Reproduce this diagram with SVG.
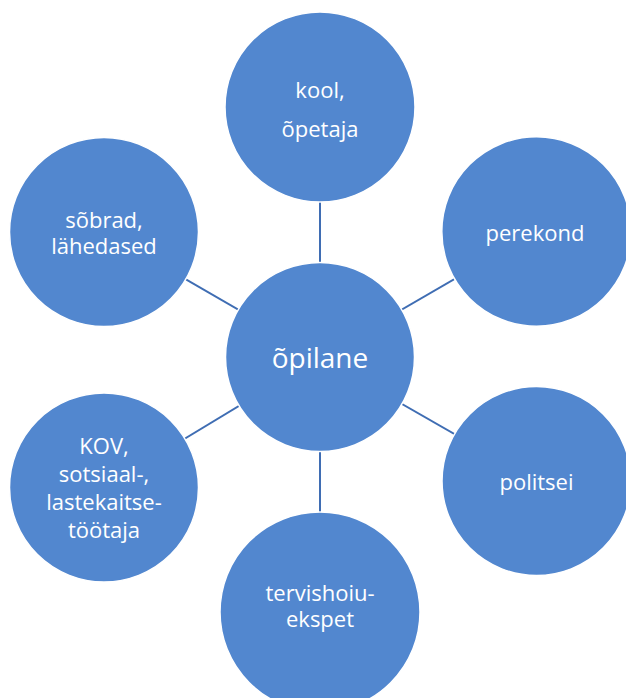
<svg xmlns="http://www.w3.org/2000/svg" width="626" height="698" viewBox="0 0 626 698">
<style>
.n circle{fill:#5287CF;stroke:#ffffff;stroke-width:1.5}
.n text{fill:#ffffff;font-family:"Open Sans","Noto Sans","DejaVu Sans",sans-serif;font-size:22px;text-anchor:middle}
.c line{stroke:#3F6DB3;stroke-width:2}
</style>
<rect width="626" height="698" fill="#ffffff"/>
<g id="connectors" class="c">
<line x1="320" y1="357" x2="320" y2="107"/>
<line x1="320" y1="357" x2="536.5" y2="231.5"/>
<line x1="320" y1="357" x2="536.5" y2="481"/>
<line x1="320" y1="357" x2="320" y2="612"/>
<line x1="320" y1="357" x2="104" y2="487.5"/>
<line x1="320" y1="357" x2="104" y2="232"/>
</g>
<g id="node-opilane" class="n">
<circle cx="320" cy="357" r="94.5"/>
<text x="320" y="368.3" style="font-size:28px">õpilane</text>
</g>
<g id="node-kool" class="n">
<circle cx="320" cy="107" r="95"/>
<text x="320" y="98">kool,</text>
<text x="320" y="136.7">õpetaja</text>
</g>
<g id="node-perekond" class="n">
<circle cx="536.5" cy="231.5" r="94.7"/>
<text x="535" y="240.7">perekond</text>
</g>
<g id="node-politsei" class="n">
<circle cx="536.5" cy="481" r="94.5"/>
<text x="536.5" y="490">politsei</text>
</g>
<g id="node-tervishoiu" class="n">
<circle cx="320" cy="612" r="100"/>
<text x="320" y="600.7">tervishoiu-</text>
<text x="320" y="627.3">ekspet</text>
</g>
<g id="node-kov" class="n">
<circle cx="104" cy="487.5" r="94.5"/>
<text x="104" y="454">KOV,</text>
<text x="104" y="481.7">sotsiaal-,</text>
<text x="104" y="510">lastekaitse-</text>
<text x="104" y="538.3">töötaja</text>
</g>
<g id="node-sobrad" class="n">
<circle cx="104" cy="232" r="94.5"/>
<text x="104" y="227.7">sõbrad,</text>
<text x="104" y="254">lähedased</text>
</g>
</svg>
